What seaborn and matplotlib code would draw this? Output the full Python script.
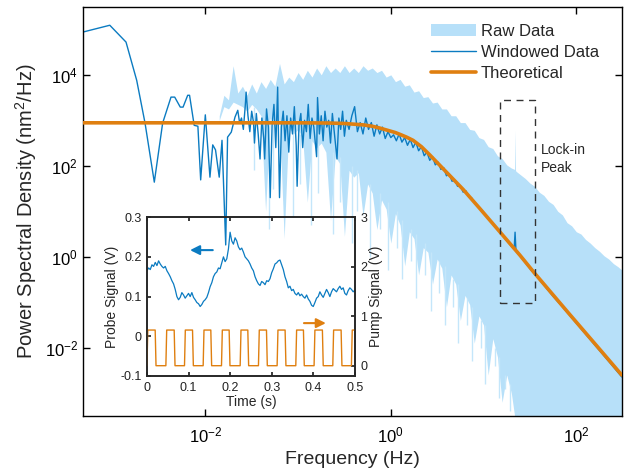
import numpy as np
import matplotlib
matplotlib.use('Agg')
from matplotlib import pyplot as plt
from matplotlib.patches import Rectangle
from matplotlib.ticker import FixedLocator, NullLocator, LogFormatterSciNotation
import seaborn as sns

sns.set_theme(style='white')
plt.rcParams['font.family'] = ['Liberation Sans', 'DejaVu Sans']
plt.rcParams['mathtext.default'] = 'regular'
plt.rcParams['axes.unicode_minus'] = False

##########################################################################
# values (log10 of frequency in Hz / PSD in nm^2/Hz)

# raw data: upper and lower edge of the light blue band
raw_logf = [-1.85, -1.80, -1.75, -1.70, -1.65, -1.60, -1.55, -1.50, -1.45, -1.40,
            -1.35, -1.30, -1.25, -1.20, -1.15, -1.10, -1.05, -1.00, -0.95, -0.90,
            -0.85, -0.80, -0.75, -0.70, -0.65, -0.60, -0.55, -0.50, -0.45, -0.40,
            -0.35, -0.30, -0.25, -0.20, -0.15, -0.10, -0.05, 0.00, 0.05, 0.10,
            0.15, 0.20, 0.25, 0.30, 0.35, 0.40, 0.45, 0.50, 0.55, 0.60,
            0.65, 0.70, 0.75, 0.80, 0.85, 0.90, 0.95, 1.00, 1.05, 1.10,
            1.15, 1.20, 1.25, 1.30, 1.335, 1.34, 1.345, 1.35, 1.40, 1.45, 1.50,
            1.55, 1.60, 1.65, 1.70, 1.75, 1.80, 1.85, 1.90, 1.95, 2.00,
            2.05, 2.10, 2.15, 2.20, 2.25, 2.30, 2.35, 2.40, 2.45, 2.49]
raw_upper = [3.10, 3.55, 3.45, 4.20, 3.60, 3.75, 3.55, 3.80, 3.60, 3.85,
             3.70, 3.90, 3.75, 4.25, 3.80, 3.95, 3.85, 4.05, 3.90, 4.10,
             3.95, 4.15, 4.00, 4.20, 4.05, 4.15, 4.05, 4.20, 4.05, 4.15,
             4.05, 4.20, 4.10, 4.15, 4.05, 4.10, 3.95, 4.00, 3.85, 3.90,
             3.75, 3.78, 3.62, 3.65, 3.50, 3.52, 3.38, 3.40, 3.25, 3.25,
             3.10, 3.10, 2.95, 2.95, 2.80, 2.78, 2.62, 2.58, 2.42, 2.38,
             2.22, 2.16, 2.02, 1.95, 1.92, 2.78, 1.90, 1.88, 1.80, 1.72, 1.62,
             1.55, 1.42, 1.35, 1.22, 1.15, 1.00, 0.92, 0.75, 0.68, 0.55,
             0.50, 0.38, 0.30, 0.20, 0.12, 0.02, -0.05, -0.15, -0.22, -0.29]
raw_lower = [3.00, 3.30, 3.25, 3.40, 3.35, 3.30, 3.20, 3.35, 3.25, 3.10,
             1.00, 3.05, 2.90, 3.00, 0.40, 2.85, 2.70, 2.80, 2.60, 1.20,
             2.55, 2.40, 2.50, 2.30, 0.80, 2.20, 2.05, 0.45, 1.90, 1.75,
             1.85, 0.90, 1.60, 1.40, 0.60, 1.25, 1.05, 0.30, 0.95, 0.70,
             -0.20, 0.55, 0.40, -0.40, 0.20, 0.10, -0.60, -0.05, -0.25, -1.10,
             -0.40, -0.60, -1.40, -0.85, -1.05, -1.90, -1.30, -1.50, -2.60, -1.80,
             -2.20, -3.20, -2.60, -3.00, -3.50, -3.60, -3.60, -3.60, -3.60, -3.60, -3.60,
             -3.60, -3.60, -3.60, -3.60, -3.60, -3.60, -3.60, -3.60, -3.60, -3.60,
             -3.60, -3.60, -3.60, -3.60, -3.60, -3.60, -3.60, -3.60, -3.60, -3.60]

# raw data: thin downward spikes below the band
spike_logf = [-1.47, -1.31, -1.27, -1.05, -0.98, -0.86, -0.78, -0.62, -0.55, -0.42,
              -0.36, -0.22, -0.12, -0.03, 0.07, 0.12, 0.22, 0.27, 0.37, 0.43,
              0.52, 0.58, 0.67, 0.72, 0.82, 0.88, 0.97, 1.02, 1.12, 1.17,
              1.23, 1.28]
spike_lo = [1.9, 0.6, 1.5, 0.9, 1.6, 0.7, 1.4, 0.5, 1.2, 0.3,
            1.0, 0.0, 0.6, -0.3, 0.2, -0.5, -0.1, -0.9, -0.4, -1.2,
            -0.8, -1.5, -1.1, -1.9, -1.5, -2.3, -2.0, -2.8, -2.4, -3.1,
            -2.9, -3.4]
spike_hi = [3.3, 3.0, 3.0, 2.8, 2.7, 2.6, 2.5, 2.3, 2.2, 2.0,
            1.9, 1.6, 1.4, 1.2, 1.0, 0.8, 0.6, 0.5, 0.3, 0.1,
            -0.1, -0.2, -0.5, -0.6, -0.9, -1.1, -1.4, -1.5, -2.0, -2.2,
            -2.6, -2.8]

# windowed data
win_logf = [-3.32, -3.03, -2.855, -2.74, -2.65, -2.55, -2.46, -2.37, -2.33, -2.27,
            -2.24, -2.19, -2.17, -2.12, -2.08, -2.05, -2.00, -1.98, -1.95, -1.92,
            -1.89, -1.85, -1.82, -1.78, -1.76, -1.72, -1.68, -1.65, -1.63,
            -1.61, -1.59, -1.57, -1.56, -1.54, -1.52, -1.50, -1.48, -1.47, -1.45,
            -1.43, -1.41, -1.39, -1.37, -1.36, -1.34, -1.32, -1.30, -1.28, -1.26,
            -1.24, -1.22, -1.20, -1.18, -1.16, -1.14, -1.12, -1.10, -1.08, -1.06,
            -1.04, -1.02, -1.01, -0.99, -0.97, -0.95, -0.93, -0.91, -0.89, -0.87,
            -0.85, -0.83, -0.80, -0.79, -0.77, -0.75, -0.73, -0.71, -0.69, -0.67,
            -0.65, -0.63, -0.61, -0.58, -0.56, -0.54, -0.52, -0.50, -0.48, -0.45,
            -0.42, -0.39, -0.36, -0.33, -0.30, -0.27, -0.24, -0.21, -0.18, -0.15,
            -0.12, -0.09, -0.06, -0.03, 0.00, 0.03, 0.06, 0.09, 0.12, 0.15,
            0.18, 0.21, 0.24, 0.27, 0.30, 0.33, 0.36, 0.39, 0.42, 0.45,
            0.48, 0.51, 0.54, 0.57, 0.60, 0.63, 0.66, 0.69, 0.72, 0.75,
            0.78, 0.81, 0.84, 0.87, 0.90, 0.95, 1.00, 1.05, 1.10, 1.15,
            1.20, 1.25, 1.30, 1.33, 1.34, 1.35, 1.40, 1.45, 1.50, 1.55,
            1.65, 1.75, 1.85, 1.95, 2.05, 2.15, 2.25, 2.35, 2.49]
win_logS = [4.94, 5.09, 4.72, 3.88, 2.94, 1.64, 2.94, 3.51, 3.51, 3.29,
            3.29, 3.55, 3.55, 2.89, 2.87, 1.69, 3.12, 2.56, 1.75, 2.46,
            2.35, 1.75, 2.56, 0.26, 2.63, 2.74, 3.07, 3.22, 2.94,
            3.05, 2.80, 3.30, 3.62, 3.10, 2.75, 3.20, 2.95, 2.50, 3.15,
            2.70, 2.15, 3.05, 2.60, 2.15, 3.25, 2.85, 1.30, 2.90, 3.35,
            2.40, 3.73, 1.30, 2.85, 3.20, 2.55, 3.10, 2.30, 3.05, 2.70,
            3.30, 2.45, 1.55, 2.90, 3.15, 2.40, 3.00, 2.75, 3.35, 2.60,
            3.05, 2.85, 2.20, 3.50, 2.70, 3.10, 2.55, 3.20, 2.85, 3.00,
            2.50, 3.15, 2.75, 2.15, 3.05, 2.80, 3.20, 2.65, 3.00, 2.80,
            3.10, 3.30, 2.75, 2.95, 2.70, 3.05, 2.80, 2.95, 2.65, 2.90,
            2.70, 2.85, 2.60, 2.75, 2.62, 2.68, 2.55, 2.70, 2.52, 2.62,
            2.45, 2.58, 2.40, 2.52, 2.33, 2.42, 2.22, 2.30, 2.12, 2.20,
            2.02, 2.08, 1.92, 1.96, 1.78, 1.82, 1.66, 1.68, 1.55, 1.56,
            1.42, 1.45, 1.32, 1.30, 1.20, 1.10, 0.98, 0.84, 0.72, 0.60,
            0.48, 0.35, 0.23, 0.16, 0.54, 0.12, 0.00, -0.13, -0.26, -0.38,
            -0.62, -0.87, -1.10, -1.34, -1.58, -1.82, -2.06, -2.30, -2.64]

# theoretical curve
theo_logf = [-3.32, -0.98, -0.66, -0.50, -0.30, -0.20, -0.12, 0.00, 0.05, 0.10,
             0.17, 0.24, 0.33, 0.42, 0.51, 0.60, 0.69, 0.78, 0.87, 0.96,
             1.175, 1.39, 1.55, 1.93, 2.28, 2.49]
theo_logS = [2.945, 2.945, 2.94, 2.93, 2.90, 2.87, 2.83, 2.76, 2.73, 2.69,
             2.63, 2.56, 2.42, 2.24, 2.05, 1.86, 1.67, 1.48, 1.27, 1.06,
             0.55, 0.04, -0.36, -1.27, -2.10, -2.60]

# inset: probe signal (V) vs time (s)
probe_t = [0.000, 0.004, 0.008, 0.012, 0.016, 0.020, 0.024, 0.028, 0.032, 0.036,
           0.040, 0.044, 0.048, 0.052, 0.056, 0.060, 0.064, 0.068, 0.072, 0.076,
           0.080, 0.084, 0.088, 0.092, 0.096, 0.100, 0.104, 0.108, 0.112, 0.116,
           0.120, 0.124, 0.128, 0.132, 0.136, 0.140, 0.144, 0.148, 0.152, 0.156,
           0.160, 0.164, 0.168, 0.172, 0.176, 0.180, 0.184, 0.188, 0.192, 0.196,
           0.200, 0.204, 0.208, 0.212, 0.216, 0.220, 0.224, 0.228, 0.232, 0.236,
           0.240, 0.244, 0.248, 0.252, 0.256, 0.260, 0.264, 0.268, 0.272, 0.276,
           0.280, 0.284, 0.288, 0.292, 0.296, 0.300, 0.304, 0.308, 0.312, 0.316,
           0.320, 0.324, 0.328, 0.332, 0.336, 0.340, 0.344, 0.348, 0.352, 0.356,
           0.360, 0.364, 0.368, 0.372, 0.376, 0.380, 0.384, 0.388, 0.392, 0.396,
           0.400, 0.404, 0.408, 0.412, 0.416, 0.420, 0.424, 0.428, 0.432, 0.436,
           0.440, 0.444, 0.448, 0.452, 0.456, 0.460, 0.464, 0.468, 0.472, 0.476,
           0.480, 0.484, 0.488, 0.492, 0.496, 0.500]
probe_v = [0.165, 0.172, 0.168, 0.180, 0.176, 0.186, 0.178, 0.190, 0.182, 0.176,
           0.172, 0.176, 0.165, 0.158, 0.150, 0.140, 0.132, 0.118, 0.100, 0.092,
           0.098, 0.110, 0.104, 0.096, 0.102, 0.108, 0.100, 0.110, 0.098, 0.092,
           0.085, 0.082, 0.075, 0.080, 0.088, 0.092, 0.098, 0.110, 0.125, 0.135,
           0.150, 0.158, 0.162, 0.172, 0.170, 0.185, 0.200, 0.188, 0.195, 0.220,
           0.262, 0.240, 0.232, 0.248, 0.240, 0.225, 0.218, 0.222, 0.212, 0.200,
           0.195, 0.190, 0.182, 0.172, 0.165, 0.150, 0.140, 0.132, 0.128, 0.138,
           0.135, 0.130, 0.140, 0.138, 0.145, 0.160, 0.170, 0.182, 0.185, 0.190,
           0.192, 0.180, 0.168, 0.150, 0.138, 0.122, 0.126, 0.115, 0.118, 0.108,
           0.104, 0.110, 0.102, 0.106, 0.100, 0.096, 0.104, 0.094, 0.088, 0.078,
           0.075, 0.085, 0.096, 0.100, 0.112, 0.104, 0.098, 0.108, 0.118, 0.110,
           0.100, 0.112, 0.120, 0.116, 0.112, 0.120, 0.126, 0.118, 0.122, 0.108,
           0.104, 0.115, 0.122, 0.118, 0.112, 0.116]

# inset: pump on/off edges (s) and levels (V)
pump_rise = [0.0010, 0.0465, 0.0913, 0.1362, 0.1803, 0.2252, 0.2692, 0.3141,
             0.3590, 0.4030, 0.4480, 0.4928]
pump_fall = [0.0208, 0.0665, 0.1106, 0.1546, 0.1987, 0.2436, 0.2885, 0.3333,
             0.3774, 0.4230, 0.4680]
pump_low, pump_high = 0.0, 0.72

##########################################################################
blue = '#0B7BC1'
light_blue = '#B7E0F9'
orange = '#DF7F10'

fig = plt.figure(figsize=(6.28, 4.70), dpi=100)
ax = fig.add_axes([0.132, 0.115, 0.858, 0.870])
ax.set_xscale('log')
ax.set_yscale('log')

rf = 10 ** np.array(raw_logf)
ax.fill_between(rf, 10 ** np.array(raw_lower), 10 ** np.array(raw_upper),
                color=light_blue, lw=0, label='Raw Data', zorder=1)
ax.vlines(10 ** np.array(spike_logf), 10 ** np.array(spike_lo),
          10 ** np.array(spike_hi), color='#C4E6FA', lw=1.0, zorder=1)
sns.lineplot(x=10 ** np.array(win_logf), y=10 ** np.array(win_logS), ax=ax,
             color=blue, lw=1.0, label='Windowed Data', estimator=None,
             sort=False, zorder=2)
sns.lineplot(x=10 ** np.array(theo_logf), y=10 ** np.array(theo_logS), ax=ax,
             color=orange, lw=2.6, label='Theoretical', estimator=None,
             sort=False, zorder=3)

# lock-in peak box
ax.add_patch(Rectangle((15.0, 0.096), 35.6 - 15.0, 2770 - 0.096, fill=False,
                       ls=(0, (5, 4)), ec='#333333', lw=1.0, zorder=4))
ax.text(41.5, 140, 'Lock-in\nPeak', fontsize=10, va='center', ha='left',
        linespacing=1.3)

ax.set_xlim(10 ** -3.32, 10 ** 2.49)
ax.set_ylim(10 ** -3.5, 10 ** 5.49)
ax.xaxis.set_major_locator(FixedLocator([1e-2, 1e0, 1e2]))
ax.yaxis.set_major_locator(FixedLocator([1e-2, 1e0, 1e2, 1e4]))
ax.xaxis.set_major_formatter(LogFormatterSciNotation())
ax.yaxis.set_major_formatter(LogFormatterSciNotation())
ax.xaxis.set_minor_locator(NullLocator())
ax.yaxis.set_minor_locator(NullLocator())
ax.tick_params(direction='in', length=5, width=1, labelsize=12, top=True,
               right=True, bottom=True, left=True, colors='black')
ax.tick_params(axis='x', pad=7)
for s in ax.spines.values():
    s.set_color('black')
    s.set_linewidth(1.0)
ax.set_xlabel('Frequency (Hz)', fontsize=14, labelpad=4)
ax.set_ylabel('Power Spectral Density (nm$^2$/Hz)', fontsize=14.5, labelpad=4)

h, l = ax.get_legend_handles_labels()
ax.legend(h, l, loc='upper right', frameon=False, fontsize=12,
          handlelength=2.7, handletextpad=0.3, labelspacing=0.35,
          bbox_to_anchor=(0.985, 0.995))

##########################################################################
# inset
ax_in = fig.add_axes([0.234, 0.2, 0.331, 0.338])
ax_in.patch.set_alpha(0)
sns.lineplot(x=probe_t, y=probe_v, ax=ax_in, color=blue, lw=0.9,
             estimator=None, sort=False)
ax_in.set_xlim(0, 0.5)
ax_in.set_ylim(-0.1, 0.3)
ax_in.set_xticks([0, 0.1, 0.2, 0.3, 0.4, 0.5])
ax_in.set_xticklabels(['0', '0.1', '0.2', '0.3', '0.4', '0.5'])
ax_in.set_yticks([-0.1, 0, 0.1, 0.2, 0.3])
ax_in.set_yticklabels(['-0.1', '0', '0.1', '0.2', '0.3'])
ax_in.tick_params(direction='in', length=3, labelsize=9, top=True, bottom=True,
                  left=True, pad=4, colors='#222222')
ax_in.set_xlabel('Time (s)', fontsize=10, labelpad=1)
ax_in.set_ylabel('Probe Signal (V)', fontsize=10, labelpad=1)
ax_in.annotate('', xy=(0.097, 0.217), xytext=(0.165, 0.217),
               arrowprops=dict(arrowstyle='-|>', color=blue, lw=1.5,
                               mutation_scale=14))

pt, pv = [0.0], [pump_low]
for i, r in enumerate(pump_rise):
    pt += [r - 0.001, r + 0.001]
    pv += [pump_low, pump_high]
    if i < len(pump_fall):
        pt += [pump_fall[i] - 0.001, pump_fall[i] + 0.001]
        pv += [pump_high, pump_low]
pt.append(0.5)
pv.append(pump_high)

ax_r = ax_in.twinx()
sns.lineplot(x=pt, y=pv, ax=ax_r, color=orange, lw=1.0, estimator=None,
             sort=False)
ax_r.set_ylim(-0.208, 3)
ax_r.set_yticks([0, 1, 2, 3])
ax_r.set_yticklabels(['0', '1', '2', '3'])
ax_r.tick_params(direction='in', length=3, labelsize=9, right=True, pad=4,
                 colors='#222222')
ax_r.set_ylabel('Pump Signal (V)', fontsize=10, labelpad=1)
ax_r.annotate('', xy=(0.437, 0.86), xytext=(0.371, 0.86),
              arrowprops=dict(arrowstyle='-|>', color=orange, lw=1.5,
                              mutation_scale=14))
for a in (ax_in, ax_r):
    for s in a.spines.values():
        s.set_color('#262626')
        s.set_linewidth(1.2)

plt.savefig('out.png', dpi=100)
